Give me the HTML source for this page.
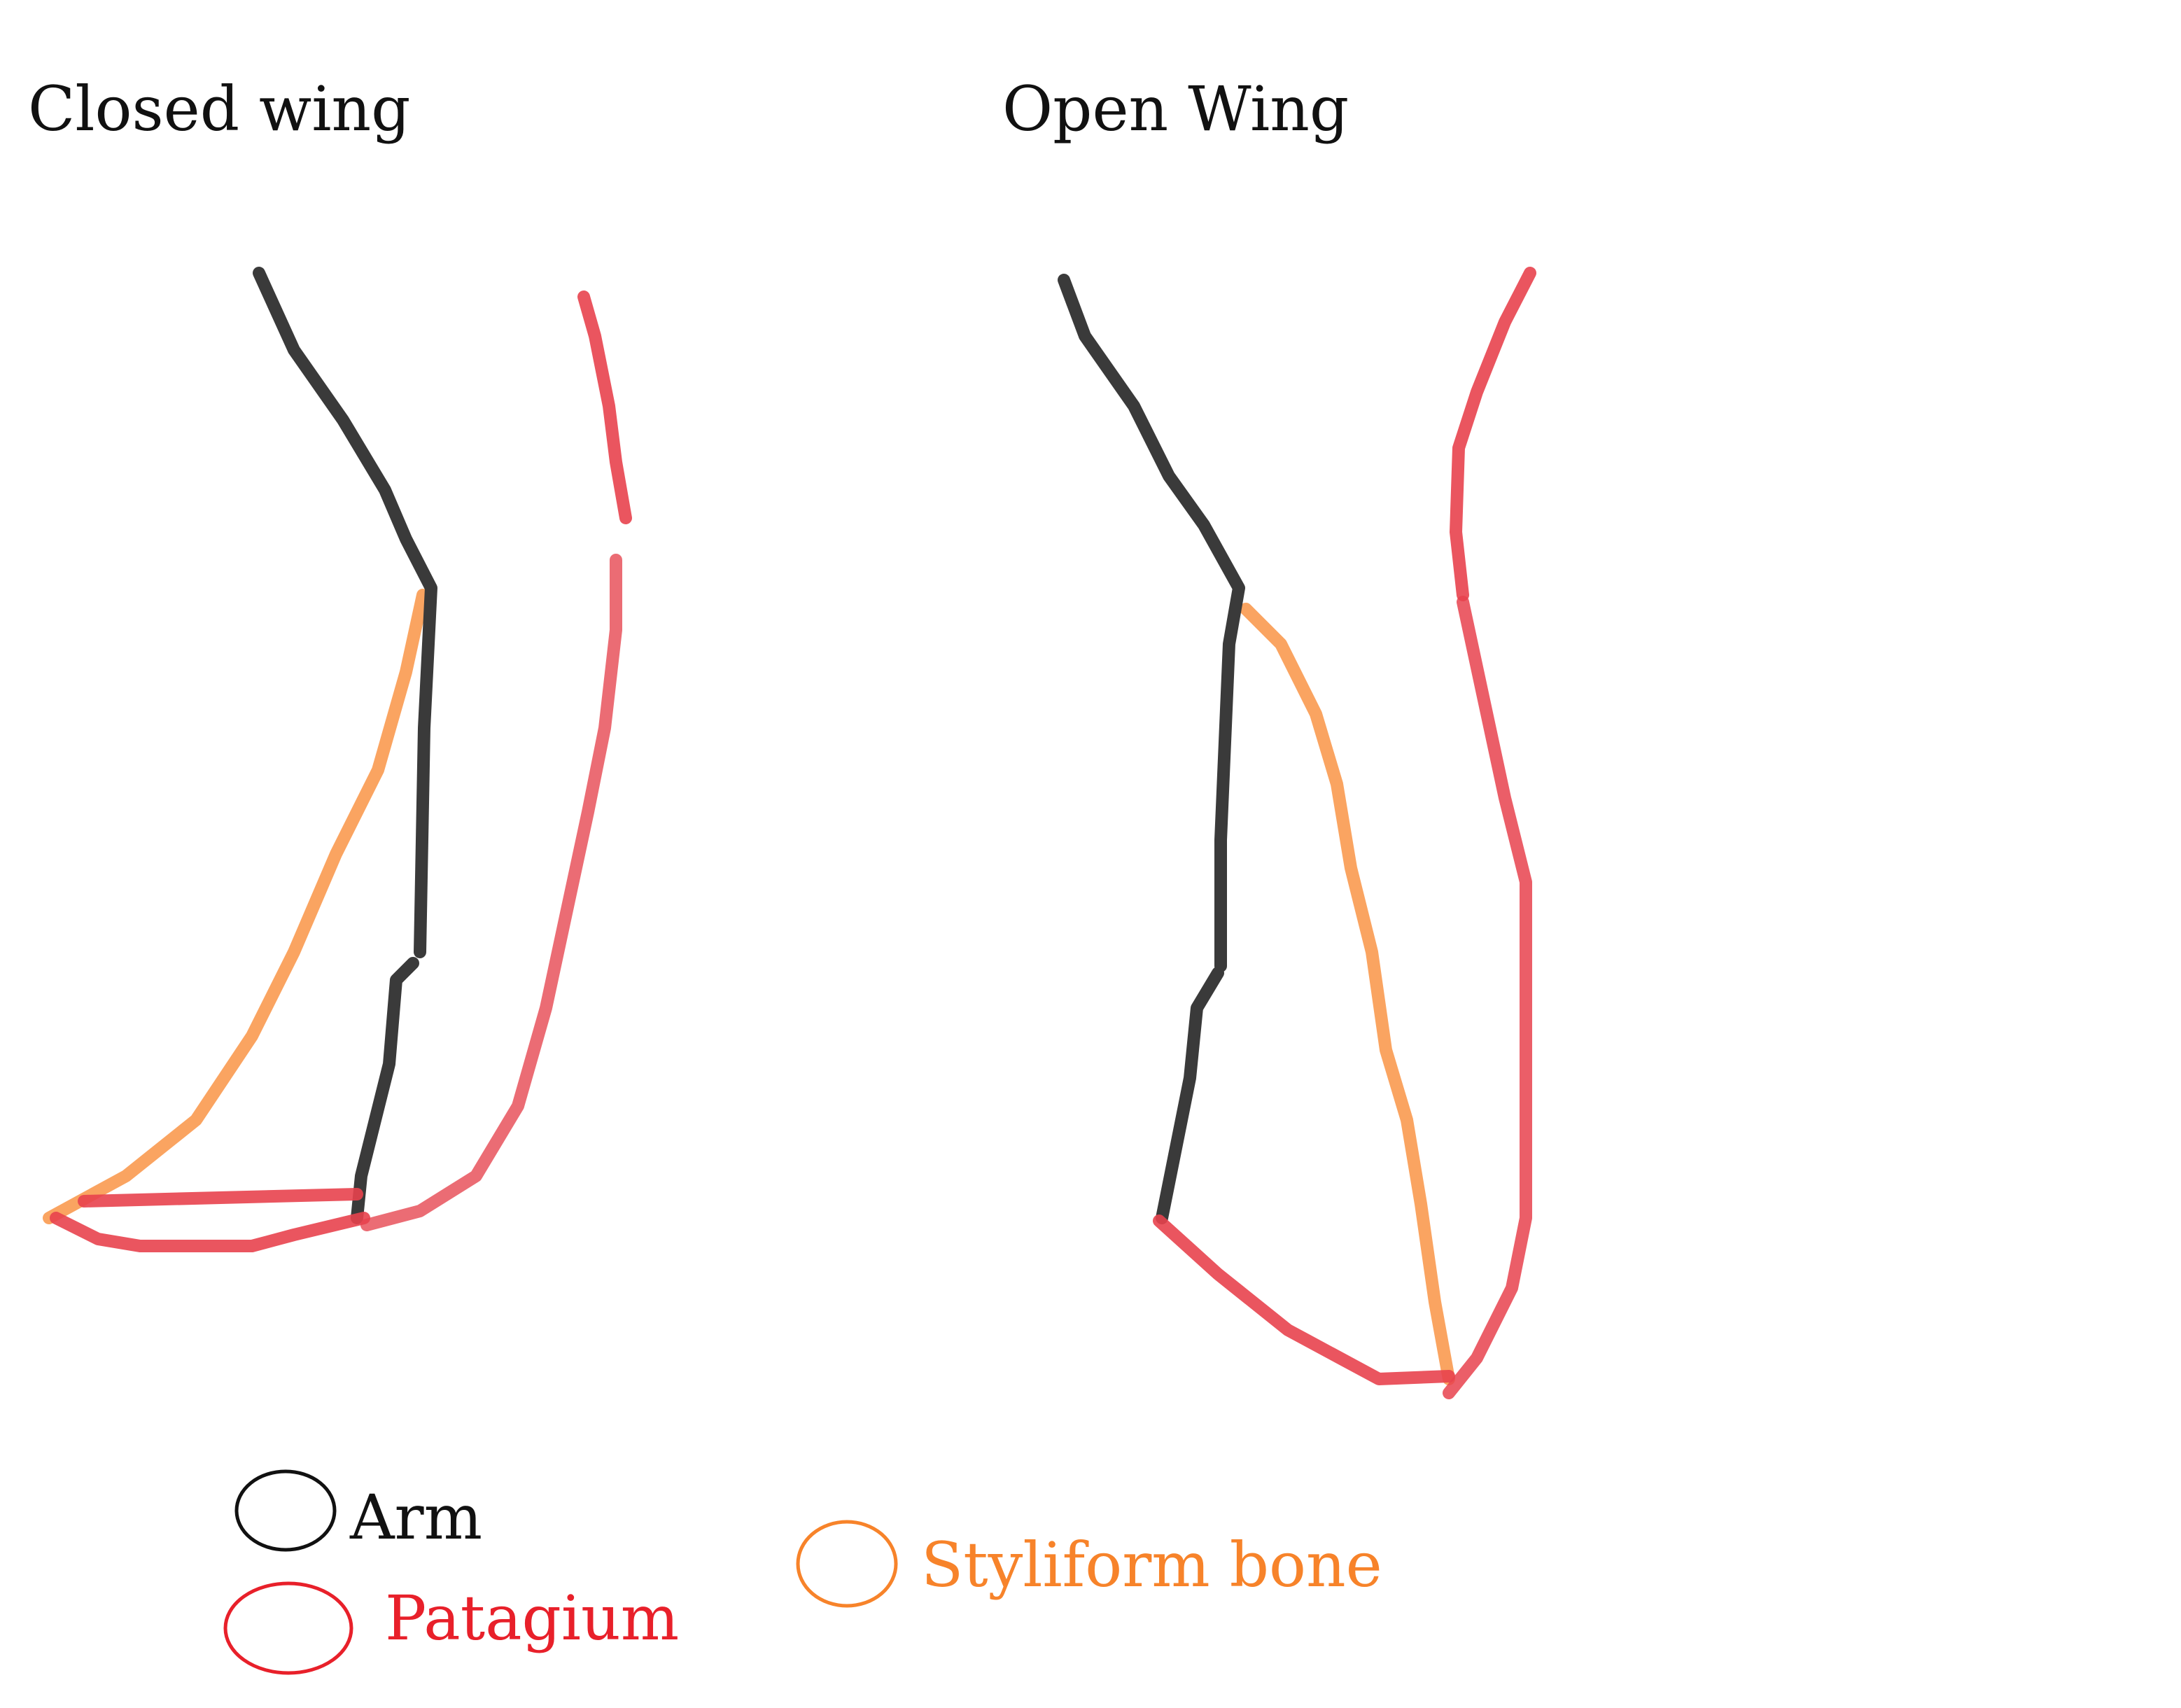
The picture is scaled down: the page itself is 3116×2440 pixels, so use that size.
<!DOCTYPE html>
<html><head><meta charset="utf-8"><style>
html,body{margin:0;padding:0;background:#fff;}
svg{display:block}
</style></head><body>
<svg width="3116" height="2440" viewBox="0 0 1558 1220" xmlns="http://www.w3.org/2000/svg">
<rect width="1558" height="1220" fill="#fff"/>
<g font-family="DejaVu Serif, Liberation Serif, serif" font-size="44">
<text x="20" y="93" fill="#111">Closed wing</text>
<text x="716" y="93" fill="#111">Open Wing</text>
<text x="250" y="1099" fill="#111">Arm</text>
<text x="275" y="1171" fill="#e8202a">Patagium</text>
<text x="658" y="1133" fill="#f7832a">Styliform bone</text>
</g>
<g fill="none" stroke-linecap="round" stroke-linejoin="round" stroke-width="9">
<polyline stroke="#f99a50" opacity="0.9" points="302,425 290,480 270,550 240,610 210,680 180,740 140,800 90,840 35,870"/>
<polyline stroke="#3a3a3a" points="185,195 210,250 245,300 275,350 290,385 308,420 303,520 300,680"/>
<polyline stroke="#3a3a3a" points="295,688 283,700 278,760 268,800 258,840 255,870"/>
<polyline stroke="#e8424e" opacity="0.9" points="417,212 425,240 435,290 440,330 447,370"/>
<polyline stroke="#e8525c" opacity="0.85" points="440,400 440,450 432,520 420,580 405,650 390,720 370,790 340,840 300,865 262,875"/>
<polyline stroke="#e8424e" opacity="0.9" points="60,858 255,853"/>
<polyline stroke="#e8424e" opacity="0.9" points="40,870 70,885 100,890 180,890 210,882 260,870"/>
<polyline stroke="#f99a50" opacity="0.9" points="890,435 915,460 940,510 955,560 965,620 980,680 990,750 1005,800 1015,860 1025,930 1035,985"/>
<polyline stroke="#3a3a3a" points="760,200 775,240 810,290 835,340 860,375 885,420 878,460 872,600 872,690"/>
<polyline stroke="#3a3a3a" points="870,695 855,720 850,770 840,820 830,870"/>
<polyline stroke="#e8424e" opacity="0.9" points="1093,195 1075,230 1055,280 1042,320 1040,380 1045,425"/>
<polyline stroke="#e8424e" opacity="0.85" points="1045,430 1060,500 1075,570 1090,630 1090,870 1080,920 1055,970 1035,995"/>
<polyline stroke="#e8424e" opacity="0.9" points="828,872 870,910 920,950 985,985 1035,983"/>
</g>
<g fill="none" stroke-width="2.5">
<ellipse cx="204" cy="1079" rx="35" ry="28" stroke="#111"/>
<ellipse cx="206" cy="1163" rx="45" ry="32" stroke="#e8202a"/>
<ellipse cx="605" cy="1117" rx="35" ry="30" stroke="#f7832a"/>
</g>
</svg>
</body></html>
